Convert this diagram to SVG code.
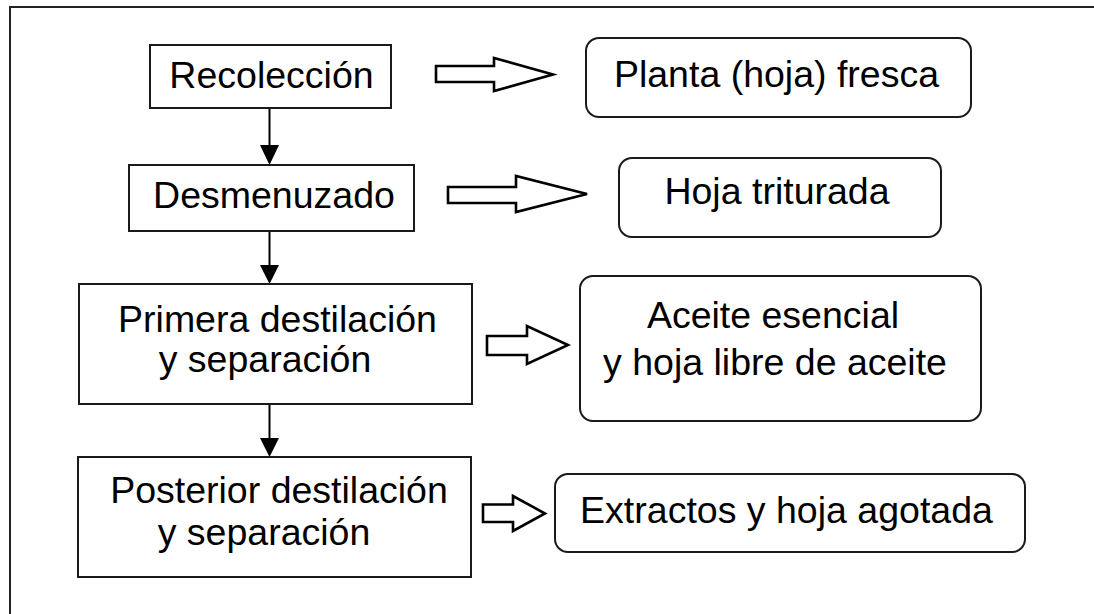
<svg xmlns="http://www.w3.org/2000/svg" width="1094" height="614" viewBox="0 0 1094 614">
<style>
.box{fill:#fff;stroke:#1a1a1a;stroke-width:2}
.out{fill:#fff;stroke:#1a1a1a;stroke-width:2}
.t{font-family:"Liberation Sans",Arial,sans-serif;font-size:37.5px;fill:#000;text-anchor:middle}
.ln{stroke:#000;stroke-width:2;fill:none}
.hd{fill:#000;stroke:none}
.ha{fill:#fff;stroke:#000;stroke-width:2.6;stroke-linejoin:miter}
</style>
<rect width="1094" height="614" fill="#fff"/>
<path d="M10,614 V7 H1094" fill="none" stroke="#222" stroke-width="2"/>
<g id="connectors">
<line class="ln" x1="269.5" y1="108" x2="269.5" y2="146"/>
<polygon class="hd" points="260,145 279,145 269.5,165"/>
<line class="ln" x1="269.5" y1="231" x2="269.5" y2="266"/>
<polygon class="hd" points="260,265 279,265 269.5,284"/>
<line class="ln" x1="269.5" y1="404" x2="269.5" y2="439"/>
<polygon class="hd" points="260,438 279,438 269.5,457"/>
<polygon class="ha" points="436,66 494,66 494,58 553,74.5 494,91 494,82 436,82"/>
<polygon class="ha" points="448,187 516,187 516,176 587,194 516,212 516,203 448,203"/>
<polygon class="ha" points="487,336 527,336 527,326 568,345 527,364 527,355 487,355"/>
<polygon class="ha" points="483,504.5 513,504.5 513,496 545,513.5 513,531 513,522 483,522"/>
</g>
<g id="recoleccion">
<rect class="box" x="150" y="45" width="241" height="63"/>
<text class="t" x="271.5" y="88">Recolección</text>
</g>
<g id="desmenuzado">
<rect class="box" x="129" y="165" width="285" height="66"/>
<text class="t" x="274" y="208">Desmenuzado</text>
</g>
<g id="primera">
<rect class="box" x="79" y="284" width="393" height="120"/>
<text class="t" x="277.5" y="332">Primera destilación</text>
<text class="t" x="265" y="372">y separación</text>
</g>
<g id="posterior">
<rect class="box" x="78" y="457" width="393" height="120"/>
<text class="t" x="279" y="503">Posterior destilación</text>
<text class="t" x="264" y="545">y separación</text>
</g>
<g id="planta">
<rect class="out" x="586" y="38" width="385" height="79" rx="13"/>
<text class="t" x="776.5" y="87">Planta (hoja) fresca</text>
</g>
<g id="hoja">
<rect class="out" x="619" y="158" width="322" height="79" rx="13"/>
<text class="t" x="777" y="204">Hoja triturada</text>
</g>
<g id="aceite">
<rect class="out" x="580" y="276" width="401" height="145" rx="13"/>
<text class="t" x="773" y="328">Aceite esencial</text>
<text class="t" x="775" y="375">y hoja libre de aceite</text>
</g>
<g id="extractos">
<rect class="out" x="555" y="474" width="470" height="78" rx="13"/>
<text class="t" x="786.5" y="522.5">Extractos y hoja agotada</text>
</g>
</svg>
